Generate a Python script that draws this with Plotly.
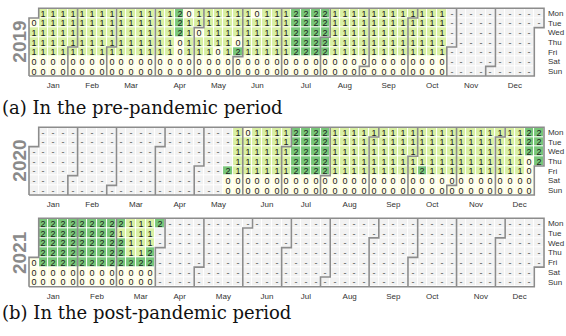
import datetime as dt
import plotly.graph_objects as go

# ---------------- data ----------------
years = [2019, 2020, 2021]
month_labels = ["Jan", "Feb", "Mar", "Apr", "May", "Jun",
                "Jul", "Aug", "Sep", "Oct", "Nov", "Dec"]
day_labels = ["Mon", "Tue", "Wed", "Thu", "Fri", "Sat", "Sun"]
captions = ["(a) In the pre-pandemic period", "(b) In the post-pandemic period"]

# daily values per month ('-' = no record); spaces only separate weeks
days_2019 = {
    1: "0111 00 11111 00 11111 00 11111 00 1111",
    2: "1 00 11111 00 11111 00 11111 00 1111",
    3: "1 00 11111 00 11111 00 11111 00 11111 00",
    4: "11111 00 11111 00 22200 00 01111 00 11",
    5: "011 00 11111 00 11110 00 11111 00 11102",
    6: "00 11111 00 01111 00 11111 00 11111 00",
    7: "11111 00 22222 00 22222 00 22222 00 222",
    8: "22 00 11111 00 11111 00 11111 00 11111 0",
    9: "0 11111 00 11111 00 11111 00 11111 00 1",
    10: "1111 00 11111 00 11111 00 11111 00 ----",
}
days_2020 = {
    5: "- -- ----- -- ----- -- ----2 00 11111 00",
    6: "01111 00 11111 00 11111 00 11111 00 11",
    7: "111 00 22222 00 22222 00 22222 00 22222",
    8: "00 11111 00 11111 00 11111 00 11111 00 1",
    9: "1111 00 11111 00 11111 00 11111 00 111",
    10: "11 00 11112 00 11111 00 11111 00 11111 0",
    11: "0 11111 00 11111 00 11111 00 11111 00 1",
    12: "1111 00 11111 00 11111 00 22200 00 2222",
}
days_2021 = {
    1: "0 00 22222 00 22222 00 22222 00 22222 00",
    2: "22222 00 22222 00 22222 00 22222 00",
    3: "21222 00 11112 00 11112 00 11122 00 2--",
}
year_data = {2019: days_2019, 2020: days_2020, 2021: days_2021}

# ---------------- styling / geometry ----------------
W, H = 566, 336
GX0, GX1 = 29.0, 544.0                      # grid left/right (px)
PANELS = [(8.3, 76.0), (127.3, 195.0), (218.3, 286.7)]   # grid top/bottom (px)
PAD = 0.3                                   # extra axis range (cells) so borders are not clipped
NCOL = 53
COLORS = ["#ffffe5", "#d9f0a3", "#78c679"]
MISSING = "#f2f2f2"
LINE = "#8c8c8c"
SANS = "Liberation Sans, Arial, sans-serif"
SERIF = "DejaVu Serif, serif"


def cell(d, year):
    jan1 = dt.date(year, 1, 1)
    return ((d - jan1).days + jan1.weekday()) // 7, d.weekday()


fig = go.Figure()
for i, year in enumerate(years):
    data = year_data[year]
    zv = [[None] * NCOL for _ in range(7)]
    tv = [[""] * NCOL for _ in range(7)]
    zm = [[None] * NCOL for _ in range(7)]
    tm = [[""] * NCOL for _ in range(7)]
    d = dt.date(year, 1, 1)
    while d.year == year:
        c, r = cell(d, year)
        s = data.get(d.month)
        code = s.replace(" ", "")[d.day - 1] if s else "-"
        if code == "-":
            zm[r][c] = 0
            tm[r][c] = "-"
        else:
            zv[r][c] = int(code)
            tv[r][c] = code
        d += dt.timedelta(days=1)

    ax = "" if i == 0 else str(i + 1)
    xa, ya = "x" + ax, "y" + ax
    fig.add_trace(go.Heatmap(
        z=zm, text=tm, texttemplate="%{text}", xaxis=xa, yaxis=ya,
        colorscale=[[0, MISSING], [1, MISSING]], zmin=0, zmax=1, showscale=False,
        xgap=1, ygap=1, hoverinfo="skip",
        textfont=dict(family=SANS, size=9, color="#555555")))
    fig.add_trace(go.Heatmap(
        z=zv, text=tv, texttemplate="%{text}", xaxis=xa, yaxis=ya,
        colorscale=[[0, COLORS[0]], [0.5, COLORS[1]], [1, COLORS[2]]],
        zmin=0, zmax=2, showscale=False, xgap=1, ygap=1, hoverinfo="skip",
        textfont=dict(family=SANS, size=9, color="#1a1a1a")))

    # month borders + outline, derived from the calendar
    lx, ly = [], []
    for m in range(2, 13):
        c, r = cell(dt.date(year, m, 1), year)
        if r == 0:
            pts = [(c - 0.5, -0.5), (c - 0.5, 6.5)]
        else:
            pts = [(c + 0.5, -0.5), (c + 0.5, r - 0.5), (c - 0.5, r - 0.5), (c - 0.5, 6.5)]
        for p in pts:
            lx.append(p[0]); ly.append(p[1])
        lx.append(None); ly.append(None)
    c0, r0 = cell(dt.date(year, 1, 1), year)
    c1, r1 = cell(dt.date(year, 12, 31), year)
    pts = []
    if r0 == 0:
        pts.append((-0.5, -0.5))
    else:
        pts += [(-0.5, 6.5), (-0.5, r0 - 0.5), (0.5, r0 - 0.5), (0.5, -0.5)]
    pts.append((c1 + 0.5, -0.5))
    if r1 == 6:
        pts.append((c1 + 0.5, 6.5))
    else:
        pts += [(c1 + 0.5, r1 + 0.5), (c1 - 0.5, r1 + 0.5), (c1 - 0.5, 6.5)]
    pts += [(-0.5, 6.5)]
    if r0 == 0:
        pts.append((-0.5, -0.5))
    for p in pts:
        lx.append(p[0]); ly.append(p[1])
    fig.add_trace(go.Scatter(x=lx, y=ly, mode="lines", xaxis=xa, yaxis=ya,
                             line=dict(color=LINE, width=1.6), hoverinfo="skip",
                             showlegend=False))

    # month tick positions (centre of each month's column span)
    tickv = []
    for m in range(1, 13):
        a = cell(dt.date(year, m, 1), year)[0]
        nxt = dt.date(year + (m == 12), m % 12 + 1, 1) - dt.timedelta(days=1)
        b = cell(nxt, year)[0]
        tickv.append((a + b) / 2)

    cw = (GX1 - GX0) / NCOL
    top, bot = PANELS[i]
    ch = (bot - top) / 7
    xdom = [(GX0 - PAD * cw) / W, (GX1 + PAD * cw) / W]
    ydom = [1 - (bot + PAD * ch) / H, 1 - (top - PAD * ch) / H]
    fig.update_layout(**{
        "xaxis" + ax: dict(domain=xdom, range=[-0.5 - PAD, NCOL - 0.5 + PAD],
                           showgrid=False, zeroline=False, showline=False,
                           tickvals=tickv, ticktext=month_labels, ticks="", ticklen=0,
                           tickfont=dict(family=SANS, size=8, color="#333333"),
                           anchor=ya, fixedrange=True, automargin=False),
        "yaxis" + ax: dict(domain=ydom, range=[6.5 + PAD, -0.5 - PAD],
                           showgrid=False, zeroline=False, showline=False,
                           tickvals=list(range(7)), ticktext=day_labels, side="right",
                           ticks="", ticklen=0,
                           tickfont=dict(family=SANS, size=8, color="#333333"),
                           anchor=xa, fixedrange=True, automargin=False),
    })
    fig.add_annotation(x=19.5 / W, y=1 - (top + bot) / 2 / H, xref="paper", yref="paper",
                       xanchor="center", yanchor="middle",
                       text="<b>%d</b>" % year, textangle=-90, showarrow=False,
                       font=dict(family=SANS, size=19, color="#8a8a8a"))

for cap, yc in zip(captions, [108, 312]):
    fig.add_annotation(x=0, y=1 - yc / H, xref="paper", yref="paper",
                       xanchor="left", yanchor="middle", text=cap, showarrow=False,
                       font=dict(family=SERIF, size=18, color="#111111"))

fig.update_layout(width=W, height=H, margin=dict(l=0, r=0, t=0, b=0, autoexpand=False),
                  paper_bgcolor="white", plot_bgcolor="white", showlegend=False)
fig.write_html("out.html", config={"displayModeBar": False, "staticPlot": True},
               post_script="document.body.style.margin='0';document.body.style.overflow='hidden';")
